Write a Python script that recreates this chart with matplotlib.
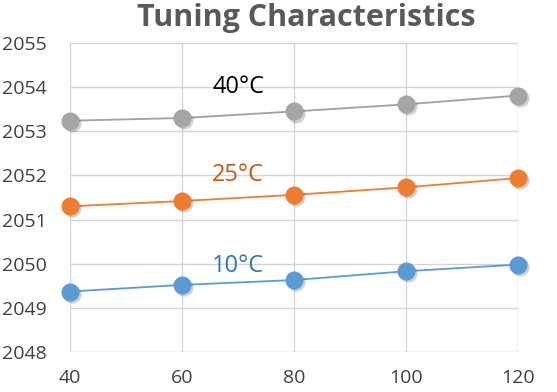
import matplotlib.pyplot as plt
import matplotlib.transforms as mtransforms

current = [40, 60, 80, 100, 120]
freq_10 = [2049.37, 2049.52, 2049.63, 2049.83, 2049.98]
freq_25 = [2051.30, 2051.42, 2051.56, 2051.73, 2051.94]
freq_40 = [2053.24, 2053.30, 2053.45, 2053.61, 2053.81]
yticks = [2048, 2049, 2050, 2051, 2052, 2053, 2054, 2055]

series = [
    (freq_40, "#A5A5A5", "#A0A0A0", "40°C", "black", 2054.0),
    (freq_25, "#ED7D31", "#ED7D31", "25°C", "#C55A11", 2052.0),
    (freq_10, "#5B9BD5", "#5B9BD5", "10°C", "#2E75B6", 2049.95),
]

plt.rcParams['font.family'] = ['Open Sans', 'DejaVu Sans']

fig = plt.figure(figsize=(5.57, 3.92), dpi=100)
ax = fig.add_axes([70 / 557, 1 - 352 / 392, 448 / 557, 309 / 392])

# soft shadow under the markers
shift = mtransforms.offset_copy(ax.transData, fig=fig, x=1.5, y=-1.5, units="points")
for vals, mcol, lcol, label, tcol, ty in series:
    ax.plot(current, vals, linestyle="none", marker="o", markersize=13,
            color="black", alpha=0.18, markeredgewidth=0, transform=shift,
            zorder=2.5, clip_on=False)
    ax.plot(current, vals, color=lcol, linewidth=1.3, zorder=2, clip_on=False)
    ax.plot(current, vals, linestyle="none", marker="o", markersize=12,
            markerfacecolor=mcol, markeredgecolor=mcol, zorder=3, clip_on=False)
    ax.text(70, ty, label, color=tcol, fontsize=17, ha="center", va="center")

ax.set_xlim(40, 120)
ax.set_ylim(2048, 2055)
ax.set_xticks(current)
ax.set_yticks(yticks)
ax.grid(True, color="#D4D4D4", linewidth=1)
ax.set_axisbelow(True)
for s in ax.spines.values():
    s.set_visible(False)
ax.tick_params(length=0, labelsize=14, colors="#404040")
ax.tick_params(axis="y", pad=17)
ax.tick_params(axis="x", pad=12)

fig.text(306 / 557, 1 - 18 / 392, "Tuning Characteristics", fontsize=22,
         fontweight="bold", color="#595959", ha="center", va="center")

fig.savefig("out.png", dpi=100)
